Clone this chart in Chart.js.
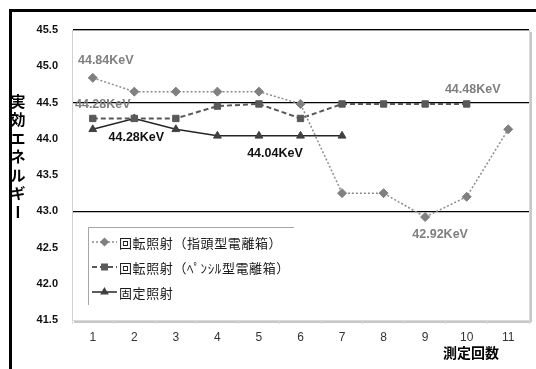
<!DOCTYPE html>
<html>
<head>
<meta charset="utf-8">
<script src="https://cdn.jsdelivr.net/npm/chart.js@4/dist/chart.umd.min.js"></script>
<style>
  html, body { margin: 0; padding: 0; background: #fff; }
  #wrap { width: 536px; height: 369px; }
</style>
</head>
<body>
<div id="wrap"><canvas id="c" width="536" height="369"></canvas></div>
<script>
// 測定回数
const runs = ['1', '2', '3', '4', '5', '6', '7', '8', '9', '10', '11'];

// 実効エネルギー [KeV]
const rotThimble = [44.84, 44.65, 44.65, 44.65, 44.65, 44.48, 43.25, 43.25, 42.92, 43.2, 44.13];
const rotPencil  = [44.28, 44.28, 44.28, 44.45, 44.48, 44.28, 44.48, 44.48, 44.48, 44.48, null];
const fixedIrr   = [44.13, 44.28, 44.13, 44.04, 44.04, 44.04, 44.04, null, null, null, null];

const seriesNames = ['回転照射（指頭型電離箱）', '回転照射（ﾍﾟﾝｼﾙ型電離箱）', '固定照射'];

// y axis range and the levels that get a reference line
const yMin = 41.5, yMax = 45.5, yStep = 0.5;
const refLines = [45.5, 44.5, 43.0];

// annotated points: [dataset, index, dx, dy, colour]
const valueNotes = [
  [0, 0, 13, -17, '#7f7f7f'],
  [1, 0, 10, -14, '#7f7f7f'],
  [2, 1, 2, 19, '#111111'],
  [2, 4, 16, 18, '#111111'],
  [1, 9, 6, -14, '#7f7f7f'],
  [0, 8, 15, 17, '#7f7f7f']
];

const jp = '"Noto Sans CJK JP", "Noto Sans", sans-serif';
const num = '"Liberation Sans", Arial, sans-serif';

const frame = {
  id: 'frame',
  beforeDraw(chart) {
    const { ctx, chartArea: a } = chart;
    ctx.save();
    ctx.fillStyle = '#fff';
    ctx.fillRect(0, 0, chart.width, chart.height);
    // outer frame (top and left)
    ctx.strokeStyle = '#000';
    ctx.lineWidth = 3;
    ctx.beginPath();
    ctx.moveTo(536, 10.5);
    ctx.lineTo(10.5, 10.5);
    ctx.lineTo(10.5, 369);
    ctx.stroke();
    // plot area shadow and border
    ctx.fillStyle = '#c8c8c8';
    ctx.fillRect(a.left + 2, a.bottom, a.width, 3);
    ctx.fillRect(a.right, a.top + 2, 3, a.height);
    ctx.fillStyle = '#fff';
    ctx.fillRect(a.left, a.top, a.width, a.height);
    ctx.strokeStyle = '#d9d9d9';
    ctx.lineWidth = 1;
    ctx.strokeRect(a.left + 0.5, a.top + 0.5, a.width, a.height);
    ctx.restore();
  },
  afterDraw(chart) {
    const { ctx } = chart;
    ctx.save();
    ctx.fillStyle = '#000';
    // y axis title, vertical
    ctx.font = 'bold 15px ' + jp;
    ctx.textAlign = 'center';
    ctx.textBaseline = 'middle';
    const chars = ['実', '効', 'エ', 'ネ', 'ル', 'ギ', 'ー'];
    chars.forEach((ch, i) => {
      const y = 101 + i * 18.5;
      if (ch === 'ー') {
        ctx.save();
        ctx.translate(18, y);
        ctx.rotate(Math.PI / 2);
        ctx.fillText(ch, 0, 0);
        ctx.restore();
      } else {
        ctx.fillText(ch, 18, y);
      }
    });
    // x axis title
    ctx.font = 'bold 14px ' + jp;
    ctx.fillText('測定回数', 471, 353);
    ctx.restore();
  }
};

const notes = {
  id: 'notes',
  afterDatasetsDraw(chart) {
    const { ctx } = chart;
    const xs = chart.scales.x, ys = chart.scales.y;
    ctx.save();
    ctx.font = 'bold 12.5px ' + num;
    ctx.textAlign = 'center';
    ctx.textBaseline = 'middle';
    valueNotes.forEach(([d, i, dx, dy, col]) => {
      const v = chart.data.datasets[d].data[i];
      ctx.fillStyle = col;
      ctx.fillText(v.toFixed(2) + 'KeV', xs.getPixelForValue(i) + dx, ys.getPixelForValue(v) + dy);
    });
    ctx.restore();
  }
};

const legendBox = {
  id: 'legendBox',
  afterDatasetsDraw(chart) {
    const { ctx } = chart;
    const bx = 88, by = 227, bw = 206, bh = 78;
    ctx.save();
    ctx.fillStyle = '#fff';
    ctx.fillRect(bx, by, bw, bh);
    ctx.strokeStyle = '#a6a6a6';
    ctx.lineWidth = 1;
    ctx.beginPath();
    ctx.moveTo(bx + 0.5, by + bh);
    ctx.lineTo(bx + 0.5, by + 0.5);
    ctx.lineTo(bx + bw, by + 0.5);
    ctx.stroke();
    chart.data.datasets.forEach((ds, k) => {
      const y = 242 + k * 25;
      ctx.strokeStyle = ds.borderColor;
      ctx.lineWidth = ds.borderWidth;
      ctx.setLineDash(ds.borderDash || []);
      ctx.beginPath();
      ctx.moveTo(92, y);
      ctx.lineTo(117, y);
      ctx.stroke();
      ctx.setLineDash([]);
      ctx.fillStyle = ds.pointBackgroundColor;
      ctx.strokeStyle = ds.pointBackgroundColor;
      Chart.helpers.drawPoint(ctx, {
        pointStyle: ds.pointStyle, radius: 3.5, rotation: 0, borderWidth: 1
      }, 104.5, y);
      ctx.fill();
      ctx.fillStyle = '#1a1a1a';
      ctx.font = '13px ' + jp;
      ctx.letterSpacing = '0.6px';
      ctx.textAlign = 'left';
      ctx.textBaseline = 'middle';
      ctx.fillText(seriesNames[k], 119, y + 1);
      ctx.letterSpacing = '0px';
    });
    ctx.restore();
  }
};

new Chart(document.getElementById('c'), {
  type: 'line',
  data: {
    labels: runs,
    datasets: [
      {
        label: seriesNames[0], data: rotThimble,
        borderColor: '#8c8c8c', borderWidth: 1.5, borderDash: [2, 2],
        pointStyle: 'rectRot', pointRadius: 4.5,
        pointBackgroundColor: '#808080', pointBorderColor: '#808080', pointBorderWidth: 1
      },
      {
        label: seriesNames[1], data: rotPencil,
        borderColor: '#595959', borderWidth: 2, borderDash: [5, 3],
        pointStyle: 'rect', pointRadius: 4.5,
        pointBackgroundColor: '#595959', pointBorderColor: '#595959', pointBorderWidth: 1
      },
      {
        label: seriesNames[2], data: fixedIrr,
        borderColor: '#262626', borderWidth: 1.5,
        pointStyle: 'triangle', pointRadius: 4.5,
        pointBackgroundColor: '#404040', pointBorderColor: '#404040', pointBorderWidth: 1
      }
    ]
  },
  options: {
    responsive: false,
    animation: false,
    events: [],
    layout: { padding: { left: 10, top: 30, right: 7, bottom: 0 } },
    plugins: { legend: { display: false }, tooltip: { enabled: false } },
    scales: {
      x: {
        offset: true,
        afterFit(s) { s.height = 49; },
        grid: {
          offset: true, drawOnChartArea: false, drawTicks: true,
          tickLength: 4, color: '#d9d9d9'
        },
        border: { display: false },
        ticks: {
          color: '#333', padding: 6, maxRotation: 0,
          font: { family: num, size: 12 }
        }
      },
      y: {
        min: yMin, max: yMax,
        afterFit(s) { s.width = 62; },
        afterBuildTicks(s) {
          const t = [];
          for (let v = yMin; v <= yMax + 1e-9; v += yStep) t.push({ value: +v.toFixed(1) });
          s.ticks = t;
        },
        grid: {
          drawTicks: false,
          lineWidth: 1.3,
          color: (c) => refLines.some(r => Math.abs(r - c.tick.value) < 1e-6) ? '#000' : 'rgba(0,0,0,0)'
        },
        border: { display: true, color: '#d0d0d0' },
        ticks: {
          color: '#111', padding: 14,
          font: { family: num, size: 11, weight: 'bold' },
          callback: (v) => Number(v).toFixed(1)
        }
      }
    }
  },
  plugins: [frame, notes, legendBox]
});
</script>
</body>
</html>
